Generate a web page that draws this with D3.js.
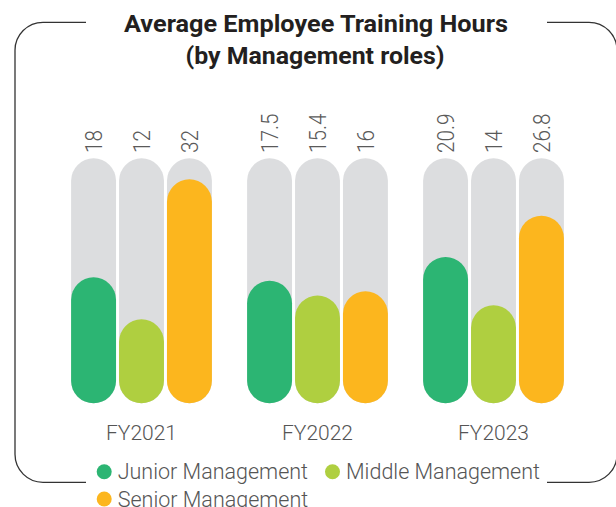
<!DOCTYPE html>
<html>
<head>
<meta charset="utf-8">
<script src="https://cdn.jsdelivr.net/npm/d3@7"></script>
<style>
  html, body { margin: 0; padding: 0; background: #fff; }
  svg { display: block; font-family: Roboto, "Noto Sans", sans-serif; }
</style>
</head>
<body>
<svg id="chart"></svg>
<script>
// data
const years = ["FY2021", "FY2022", "FY2023"];
const roles = ["Junior Management", "Middle Management", "Senior Management"];
const junior = [18, 17.5, 20.9];
const middle = [12, 15.4, 14];
const senior = [32, 16, 26.8];
const yMax = 35; // height of the grey track
const colors = ["#2cb573", "#afcf40", "#fcb61e"];

const svgWidth = 616, svgHeight = 507;
const svg = d3.select("#chart").attr("width", svgWidth).attr("height", svgHeight);

const series = [junior, middle, senior];
const data = years.map((yr, i) => ({
  year: yr,
  values: roles.map((r, j) => ({ role: r, value: series[j][i] }))
}));

// scales
const x0 = d3.scaleBand().domain(years).range([53.5, 581.5])
  .paddingInner(0.2).paddingOuter(0.1);
const x1 = d3.scaleBand().domain(roles).range([0, x0.bandwidth()]).paddingInner(0.0625);
const y = d3.scaleLinear().domain([0, yMax]).range([403.3, 158.3]);
const color = d3.scaleOrdinal().domain(roles).range(colors);

// frame with gaps for the title and the legend
const L = 15, R = 617, T = 22.3, B = 482.3, r = 28;
const frame = d3.path();
frame.moveTo(86, T);
frame.lineTo(L + r, T);
frame.arcTo(L, T, L, T + r, r);
frame.lineTo(L, B - r);
frame.arcTo(L, B, L + r, B, r);
frame.lineTo(86, B);
frame.moveTo(547, T);
frame.lineTo(R - r, T);
frame.arcTo(R, T, R, T + r, r);
frame.lineTo(R, B - r);
frame.arcTo(R, B, R - r, B, r);
frame.lineTo(547, B);
svg.append("path").attr("d", frame.toString())
  .attr("fill", "none").attr("stroke", "#333").attr("stroke-width", 1.3);

// title
const title = svg.append("g").attr("fill", "#231f20")
  .attr("font-weight", "bold").attr("font-size", 24).attr("text-anchor", "middle");
title.append("text").attr("x", 316).attr("y", 31.7)
  .attr("textLength", 384).attr("lengthAdjust", "spacingAndGlyphs")
  .text("Average Employee Training Hours");
title.append("text").attr("x", 315).attr("y", 63.5)
  .attr("textLength", 259).attr("lengthAdjust", "spacingAndGlyphs")
  .text("(by Management roles)");

// bars
const groups = svg.append("g").selectAll("g").data(data).join("g")
  .attr("transform", d => "translate(" + x0(d.year) + ",0)");

const w = x1.bandwidth();

groups.selectAll("rect.track").data(d => d.values).join("rect")
  .attr("class", "track")
  .attr("x", d => x1(d.role))
  .attr("y", y(yMax))
  .attr("width", w)
  .attr("height", y(0) - y(yMax))
  .attr("rx", w / 2).attr("ry", w / 2)
  .attr("fill", "#dcdddf");

groups.selectAll("rect.bar").data(d => d.values).join("rect")
  .attr("class", "bar")
  .attr("x", d => x1(d.role))
  .attr("y", d => y(d.value))
  .attr("width", w)
  .attr("height", d => y(0) - y(d.value))
  .attr("rx", w / 2).attr("ry", w / 2)
  .attr("fill", d => color(d.role));

// rotated value labels above the tracks
groups.selectAll("text.val").data(d => d.values).join("text")
  .attr("class", "val")
  .attr("transform", d => "translate(" + (x1(d.role) + w / 2) + ",153) rotate(-90) scale(0.9,1)")
  .attr("dy", "0.36em")
  .attr("font-size", 23)
  .attr("font-weight", 300)
  .attr("fill", "#5a5a5a")
  .text(d => String(d.value));

// category labels
svg.append("g").selectAll("text").data(years).join("text")
  .attr("x", d => x0(d) + x0.bandwidth() / 2)
  .attr("y", 440)
  .attr("text-anchor", "middle")
  .attr("font-size", 21)
  .attr("font-weight", 300)
  .attr("fill", "#555")
  .text(d => d);

// legend, wrapping inside the frame gap
const legend = svg.append("g");
let lx = 96.7, ly = 471.7;
const maxX = 548, rowH = 27.3, itemGap = 17;
roles.forEach(role => {
  const item = legend.append("g");
  item.append("circle").attr("r", 7.5).attr("cx", 7.5).attr("cy", 0)
    .attr("fill", color(role));
  const t = item.append("text").attr("x", 21).attr("y", 0).attr("dy", "0.35em")
    .attr("font-size", 21.5).attr("font-weight", 300).attr("fill", "#555")
    .text(role);
  const iw = 21 + t.node().getComputedTextLength();
  if (lx + iw > maxX && lx > 96.7) { lx = 96.7; ly += rowH; }
  item.attr("transform", "translate(" + lx + "," + ly + ")");
  lx += iw + itemGap;
});
</script>
</body>
</html>
